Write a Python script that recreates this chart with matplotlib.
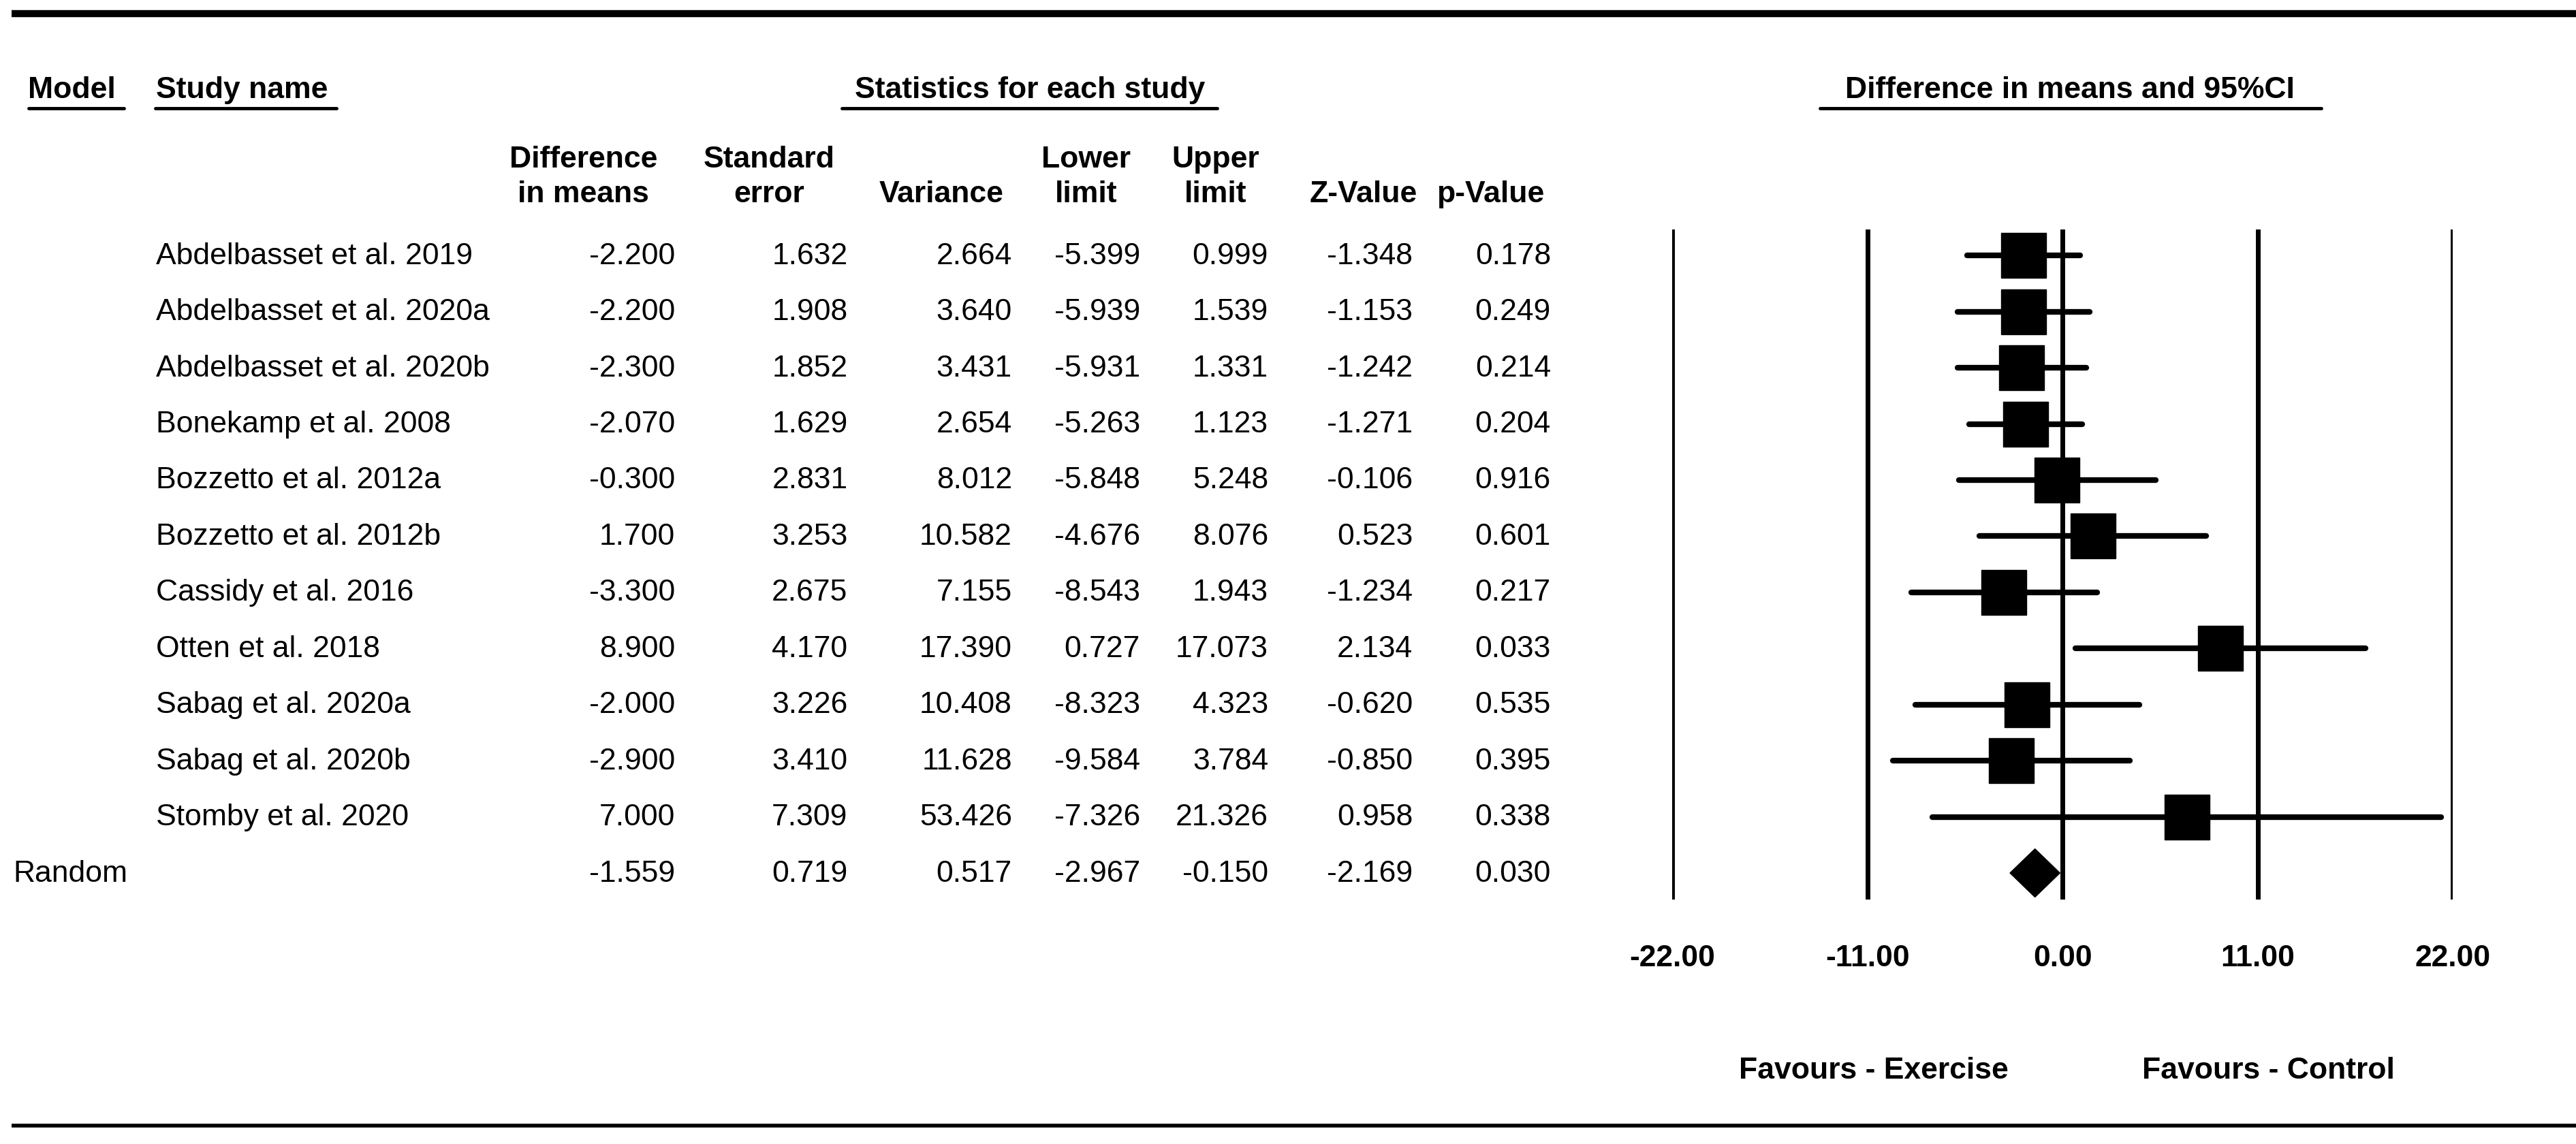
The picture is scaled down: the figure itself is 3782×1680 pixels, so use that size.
import matplotlib.pyplot as plt
from matplotlib.patches import Polygon

plt.rcParams['font.family'] = ['Liberation Sans', 'DejaVu Sans']

# study data
studies = ['Abdelbasset et al. 2019', 'Abdelbasset et al. 2020a', 'Abdelbasset et al. 2020b',
           'Bonekamp et al. 2008', 'Bozzetto et al. 2012a', 'Bozzetto et al. 2012b',
           'Cassidy et al. 2016', 'Otten et al. 2018', 'Sabag et al. 2020a',
           'Sabag et al. 2020b', 'Stomby et al. 2020']
diff = [-2.200, -2.200, -2.300, -2.070, -0.300, 1.700, -3.300, 8.900, -2.000, -2.900, 7.000]
se = [1.632, 1.908, 1.852, 1.629, 2.831, 3.253, 2.675, 4.170, 3.226, 3.410, 7.309]
var = [2.664, 3.640, 3.431, 2.654, 8.012, 10.582, 7.155, 17.390, 10.408, 11.628, 53.426]
lower = [-5.399, -5.939, -5.931, -5.263, -5.848, -4.676, -8.543, 0.727, -8.323, -9.584, -7.326]
upper = [0.999, 1.539, 1.331, 1.123, 5.248, 8.076, 1.943, 17.073, 4.323, 3.784, 21.326]
zval = [-1.348, -1.153, -1.242, -1.271, -0.106, 0.523, -1.234, 2.134, -0.620, -0.850, 0.958]
pval = [0.178, 0.249, 0.214, 0.204, 0.916, 0.601, 0.217, 0.033, 0.535, 0.395, 0.338]

# pooled (random effects)
pooled = [-1.559, 0.719, 0.517, -2.967, -0.150, -2.169, 0.030]

xticks = [-22, -11, 0, 11, 22]

W, H = 1568, 697  # layout grid (reference preview pixels)
fig = plt.figure(figsize=(37.82, 16.81), dpi=100)

# overlay axes for the table text
lay = fig.add_axes([0, 0, 1, 1])
lay.set_xlim(0, W)
lay.set_ylim(H, 0)
lay.axis('off')

fs = 32

# top and bottom rules
lay.plot([7, W], [8.5, 8.5], color='black', lw=7.5, solid_capstyle='butt')
lay.plot([7, W], [686, 686], color='black', lw=4, solid_capstyle='butt')

# section headers with underlines
headers = [('Model', 17, 'left', 17.5, 75.5),
           ('Study name', 95, 'left', 94.5, 205),
           ('Statistics for each study', 627, 'center', 512.6, 741),
           ('Difference in means and 95%CI', 1260, 'center', 1108, 1413)]
for txt, x, ha, u0, u1 in headers:
    lay.text(x, 55, txt, fontsize=fs, fontweight='bold', ha=ha, va='center')
    lay.plot([u0, u1], [66.5, 66.5], color='black', lw=3.5, solid_capstyle='round')

# column headers
col_heads = [('Difference\nin means', 355), ('Standard\nerror', 468), ('Variance', 573),
             ('Lower\nlimit', 661), ('Upper\nlimit', 740), ('Z-Value', 830), ('p-Value', 907)]
for txt, x in col_heads:
    lay.text(x, 123, txt, fontsize=fs, fontweight='bold', ha='center', va='baseline',
             linespacing=1.3)

col_right = [411, 516, 616, 694, 772, 860, 944]
row_y0, row_dy = 156, 34.18

for i, name in enumerate(studies):
    y = row_y0 + i * row_dy
    lay.text(95, y, name, fontsize=fs, ha='left', va='center')
    vals = [diff[i], se[i], var[i], lower[i], upper[i], zval[i], pval[i]]
    for v, xr in zip(vals, col_right):
        lay.text(xr, y, f'{v:.3f}', fontsize=fs, ha='right', va='center')

y = row_y0 + len(studies) * row_dy
lay.text(8, y, 'Random', fontsize=fs, ha='left', va='center')
for v, xr in zip(pooled, col_right):
    lay.text(xr, y, f'{v:.3f}', fontsize=fs, ha='right', va='center')

# forest plot axes
top_px, bot_px = 140, 548
ax = fig.add_axes([1018 / W, 1 - bot_px / H, 475 / W, (bot_px - top_px) / H])
n = len(studies)
ax.set_xlim(-22, 22)
ax.set_ylim(n + (bot_px - (row_y0 + n * row_dy)) / row_dy, -(row_y0 - top_px) / row_dy)
for s in ax.spines.values():
    s.set_visible(False)
ax.set_yticks([])

for xv in xticks:
    ax.axvline(xv, color='black', lw=5, zorder=1)

for i in range(n):
    ax.plot([lower[i], upper[i]], [i, i], color='black', lw=6, solid_capstyle='round', zorder=2)
    ax.plot(diff[i], i, marker='s', color='black', markersize=48, zorder=3)

est, lo, hi = pooled[0], pooled[3], pooled[4]
hh = 0.43
ax.add_patch(Polygon([(lo, n), (est, n - hh), (hi, n), (est, n + hh)],
                     closed=True, color='black', zorder=3))

ax.set_xticks(xticks)
ax.set_xticklabels([f'{v:.2f}' for v in xticks], fontsize=fs, fontweight='bold')
ax.tick_params(axis='x', length=0, pad=47)

lay.text(1140.6, 652, 'Favours - Exercise', fontsize=fs, fontweight='bold', ha='center', va='center')
lay.text(1380.6, 652, 'Favours - Control', fontsize=fs, fontweight='bold', ha='center', va='center')

fig.savefig('out.png', dpi=100)
